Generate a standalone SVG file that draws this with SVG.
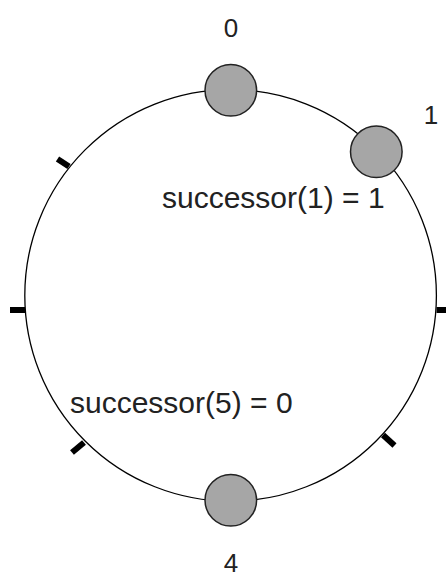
<svg xmlns="http://www.w3.org/2000/svg" width="446" height="577" viewBox="0 0 446 577">
  <style>
    .ring { fill: none; stroke: #000; stroke-width: 1.3; }
    .tick { stroke: #000; stroke-width: 6; stroke-linecap: butt; }
    .node { fill: #a6a6a6; stroke: #222; stroke-width: 1.5; }
    .lbl { font-family: "Liberation Sans", Arial, sans-serif; font-size: 26px; fill: #222; }
    .txt { font-family: "Liberation Sans", Arial, sans-serif; font-size: 30px; fill: #222; }
  </style>
  <g id="connectors">
    <circle class="ring" cx="230.6" cy="295.4" r="205.8"/>
    <line class="tick" x1="10" y1="310" x2="25" y2="310"/>
    <line class="tick" x1="436.5" y1="310" x2="451" y2="310"/>
    <line class="tick" x1="57.5" y1="159" x2="69" y2="166.5"/>
    <line class="tick" x1="72" y1="452.5" x2="84" y2="442.5"/>
    <line class="tick" x1="383" y1="435" x2="394.5" y2="445.5"/>
  </g>
  <g id="node0">
    <circle class="node" cx="230.8" cy="90.3" r="25.8"/>
    <text class="lbl" x="231" y="37" text-anchor="middle">0</text>
  </g>
  <g id="node1">
    <circle class="node" cx="376.3" cy="151.7" r="25.8"/>
    <text class="lbl" x="431" y="124" text-anchor="middle">1</text>
  </g>
  <g id="node4">
    <circle class="node" cx="230.8" cy="500.3" r="25.8"/>
    <text class="lbl" x="231" y="572" text-anchor="middle">4</text>
  </g>
  <g id="label-succ1">
    <text class="txt" x="162" y="208">successor(1) = 1</text>
  </g>
  <g id="label-succ5">
    <text class="txt" x="70" y="413">successor(5) = 0</text>
  </g>
</svg>
